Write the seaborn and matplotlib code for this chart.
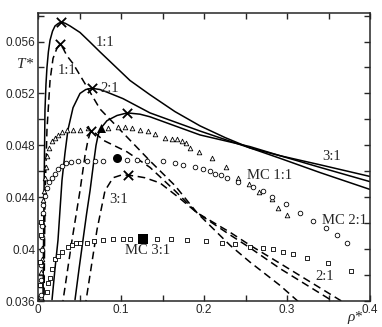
import numpy as np
import matplotlib
matplotlib.use("Agg")
import matplotlib.pyplot as plt
import seaborn as sns

# theory binodals, solid lines
solid_11_x = [0.006, 0.0072, 0.0084, 0.0096, 0.0108, 0.0125, 0.0145, 0.0175, 0.0205, 0.0245, 0.0283, 0.033,
              0.0386, 0.0506, 0.062, 0.0747, 0.1108, 0.1349, 0.165, 0.1952, 0.2253, 0.2554, 0.2916, 0.3398, 0.40]
solid_11_y = [0.0361, 0.0438, 0.0507, 0.0527, 0.0540, 0.0552, 0.0561, 0.0568, 0.0572, 0.0574, 0.0575, 0.0574,
              0.0572, 0.0567, 0.0560, 0.0552, 0.0530, 0.0519, 0.0506, 0.0495, 0.0486, 0.0478, 0.0470, 0.0459, 0.0446]
solid_21_x = [0.0169, 0.0205, 0.0241, 0.0265, 0.0289, 0.0325, 0.0361, 0.0422, 0.0506, 0.0575, 0.0647, 0.0747,
              0.0831, 0.1024, 0.1349, 0.1952, 0.2554, 0.2916, 0.3398, 0.40]
solid_21_y = [0.0361, 0.0385, 0.0407, 0.0430, 0.0453, 0.0474, 0.0492, 0.0509, 0.0520, 0.0523, 0.0524, 0.0523,
              0.0521, 0.0516, 0.0505, 0.0491, 0.0478, 0.0472, 0.0463, 0.0452]
solid_31_x = [0.0446, 0.0495, 0.0542, 0.0585, 0.0627, 0.0665, 0.0699, 0.0725, 0.0755, 0.0831, 0.0952, 0.1076,
              0.1229, 0.1349, 0.165, 0.1952, 0.2554, 0.2916, 0.3398, 0.40]
solid_31_y = [0.0361, 0.0385, 0.0407, 0.0427, 0.0445, 0.0464, 0.0480, 0.0488, 0.0493, 0.0499, 0.0503, 0.0505,
              0.0504, 0.0502, 0.0495, 0.0488, 0.0479, 0.0472, 0.0465, 0.0456]

# dashed binodals
dash_11_x = [0.0072, 0.0084, 0.0108, 0.0145, 0.0181, 0.0229, 0.0265, 0.030, 0.0349, 0.0422, 0.059, 0.0747,
             0.0988, 0.1349, 0.165, 0.1916, 0.2313, 0.2554, 0.2916, 0.3217]
dash_11_y = [0.0355, 0.0438, 0.0492, 0.0530, 0.0547, 0.0555, 0.0558, 0.0555, 0.0549, 0.0543, 0.0525, 0.0508,
             0.0492, 0.0468, 0.0449, 0.0428, 0.0403, 0.0390, 0.0372, 0.0355]
dash_21_x = [0.0289, 0.041, 0.0506, 0.0566, 0.0602, 0.0635, 0.070, 0.0783, 0.1072, 0.1349, 0.165, 0.1916,
             0.2313, 0.2554, 0.2916, 0.3675]
dash_21_y = [0.0355, 0.0407, 0.0445, 0.0472, 0.0484, 0.0491, 0.0489, 0.0484, 0.0475, 0.0463, 0.0445, 0.0428,
             0.0411, 0.0401, 0.0385, 0.0355]
dash_31_x = [0.0566, 0.0711, 0.0807, 0.0904, 0.100, 0.1088, 0.120, 0.1289, 0.147, 0.1711, 0.1916, 0.2313,
             0.2554, 0.2916, 0.3783]
dash_31_y = [0.0355, 0.0415, 0.0445, 0.0455, 0.0457, 0.0457, 0.0456, 0.0455, 0.0451, 0.0439, 0.0428, 0.0413,
             0.0403, 0.0389, 0.0355]

# critical points (crosses)
crit_x = [0.0283, 0.0265, 0.0647, 0.1076, 0.0635, 0.1088]
crit_y = [0.0575, 0.0558, 0.0524, 0.0505, 0.0491, 0.0457]

# MC 1:1 (triangles)
mc11_x = [0.0036, 0.0036, 0.0036, 0.0048, 0.0048, 0.0048, 0.006, 0.006, 0.006, 0.0072, 0.0084, 0.0096,
          0.0108, 0.0133, 0.0169, 0.0205, 0.0241, 0.0289, 0.0349, 0.0422, 0.0506, 0.0602, 0.0843, 0.0964,
          0.1048, 0.1133, 0.1229, 0.1325, 0.141, 0.153, 0.1614, 0.1675, 0.1735, 0.1783, 0.1831, 0.194,
          0.2096, 0.2265, 0.241, 0.2542, 0.2663, 0.2819, 0.2892, 0.30]
mc11_y = [0.0363, 0.0372, 0.0382, 0.0392, 0.0401, 0.0410, 0.0419, 0.0428, 0.0438, 0.0445, 0.0455, 0.0463,
          0.0472, 0.0478, 0.0483, 0.0486, 0.0488, 0.0490, 0.0492, 0.0492, 0.0492, 0.0493, 0.0493, 0.0494,
          0.0494, 0.0493, 0.0492, 0.0491, 0.0489, 0.0486, 0.0485, 0.0485, 0.0483, 0.0482, 0.0478, 0.0475,
          0.0470, 0.0463, 0.0455, 0.0450, 0.0444, 0.0439, 0.0432, 0.0426]
# MC 2:1 (circles)
mc21_x = [0.0036, 0.0036, 0.0036, 0.0048, 0.0048, 0.0048, 0.006, 0.006, 0.0084, 0.0108, 0.0133, 0.0169,
          0.0205, 0.0241, 0.0289, 0.0337, 0.0398, 0.0482, 0.059, 0.0687, 0.0783, 0.1072, 0.1193, 0.1313,
          0.1506, 0.165, 0.1747, 0.1892, 0.1988, 0.2072, 0.2133, 0.2205, 0.2277, 0.241, 0.259, 0.2711,
          0.2819, 0.2988, 0.3157, 0.3313, 0.347, 0.3602, 0.3723]
mc21_y = [0.0365, 0.0376, 0.0388, 0.0399, 0.0409, 0.0418, 0.0428, 0.0434, 0.0441, 0.0447, 0.0452, 0.0455,
          0.0458, 0.0462, 0.0464, 0.0466, 0.0467, 0.0468, 0.0468, 0.0468, 0.0468, 0.0469, 0.0469, 0.0468,
          0.0468, 0.0466, 0.0465, 0.0463, 0.0462, 0.0460, 0.0458, 0.0457, 0.0455, 0.0452, 0.0448, 0.0445,
          0.0440, 0.0435, 0.0428, 0.0422, 0.0416, 0.0411, 0.0405]
# MC 3:1 (squares)
mc31_x = [0.0024, 0.0024, 0.0036, 0.0036, 0.0108, 0.012, 0.0145, 0.0169, 0.0205, 0.0241, 0.0289, 0.0361,
          0.041, 0.0458, 0.0506, 0.059, 0.0675, 0.0783, 0.0904, 0.1024, 0.1108, 0.1434, 0.1602, 0.1795,
          0.2024, 0.2217, 0.2373, 0.2554, 0.2711, 0.2831, 0.2952, 0.3072, 0.3241, 0.3494, 0.3771]
mc31_y = [0.0372, 0.0390, 0.0411, 0.0421, 0.0367, 0.0374, 0.0378, 0.0385, 0.0392, 0.0395, 0.0398, 0.0402,
          0.0403, 0.0405, 0.0405, 0.0405, 0.0406, 0.0407, 0.0408, 0.0408, 0.0408, 0.0408, 0.0408, 0.0407,
          0.0406, 0.0405, 0.0404, 0.0402, 0.0401, 0.0400, 0.0398, 0.0396, 0.0393, 0.0389, 0.0383]

# MC critical points (filled)
mc_crit_x = [0.0755, 0.0948, 0.1261]
mc_crit_y = [0.0493, 0.0470, 0.0408]

labels = ["1:1", "1:1", "2:1", "3:1", "3:1", "2:1", "MC 1:1", "MC 2:1", "MC 3:1"]
label_x = [0.081, 0.035, 0.0867, 0.354, 0.0967, 0.3458, 0.2795, 0.3687, 0.1325]
label_y = [0.0559, 0.0538, 0.0524, 0.0471, 0.04385, 0.03787, 0.0457, 0.0422, 0.0399]

sns.set_style("ticks")
plt.rcParams['font.family'] = ['Liberation Sans', 'DejaVu Sans']

fig = plt.figure(figsize=(3.82, 3.27), dpi=100)
ax = fig.add_axes([38 / 382, 1 - 301 / 327, 332 / 382, 288 / 327])

lw = 1.1
for xs, ys in [(solid_11_x, solid_11_y), (solid_21_x, solid_21_y), (solid_31_x, solid_31_y)]:
    sns.lineplot(x=xs, y=ys, sort=False, estimator=None, color='black', lw=lw, ax=ax)
for xs, ys in [(dash_11_x, dash_11_y), (dash_21_x, dash_21_y), (dash_31_x, dash_31_y)]:
    sns.lineplot(x=xs, y=ys, sort=False, estimator=None, color='black', lw=lw,
                 linestyle=(0, (5, 3)), ax=ax)

sns.scatterplot(x=crit_x, y=crit_y, marker='x', s=45, color='black', linewidth=1.3, ax=ax, zorder=5)

open_kw = dict(facecolor='white', edgecolor='black', linewidth=0.6, s=11, ax=ax, zorder=4)
sns.scatterplot(x=mc11_x, y=mc11_y, marker='^', **open_kw)
sns.scatterplot(x=mc21_x, y=mc21_y, marker='o', **open_kw)
sns.scatterplot(x=mc31_x, y=mc31_y, marker='s', **open_kw)

for xx, yy, m in zip(mc_crit_x, mc_crit_y, ['^', 'o', 's']):
    sns.scatterplot(x=[xx], y=[yy], marker=m, s=42, color='black', linewidth=0, ax=ax, zorder=6)

for t, xx, yy in zip(labels, label_x, label_y):
    ax.text(xx, yy, t, ha='center', va='center', fontsize=10.5, family='Liberation Serif', zorder=7)

ax.set_xlim(0, 0.4)
ax.set_ylim(0.036, 0.0582)
ax.set_xticks([0, 0.1, 0.2, 0.3, 0.4])
ax.set_xticklabels(['0', '0.1', '0.2', '0.3', '0.4'])
ax.set_xticks(np.arange(0.05, 0.4, 0.1), minor=True)
ax.set_yticks([0.036, 0.04, 0.044, 0.048, 0.052, 0.056])
ax.set_yticklabels(['0.036', '0.04', '0.044', '0.048', '0.052', '0.056'])
ax.set_yticks([0.038, 0.042, 0.046, 0.050, 0.054, 0.058], minor=True)
ax.tick_params(which='both', direction='in', top=True, right=True, labelsize=8.5,
               length=4, width=1.0, pad=2)
for sp in ax.spines.values():
    sp.set_linewidth(1.1)
ax.set_xlabel('')
ax.set_ylabel('')

fig.text(25 / 382, 1 - 65 / 327, 'T*', fontsize=11, family='Liberation Serif', style='italic',
         ha='center', va='center')
fig.text(355 / 382, 1 - 318 / 327, 'ρ*', fontsize=11, family='Liberation Serif', style='italic',
         ha='center', va='center')

fig.savefig('out.png', dpi=100)
